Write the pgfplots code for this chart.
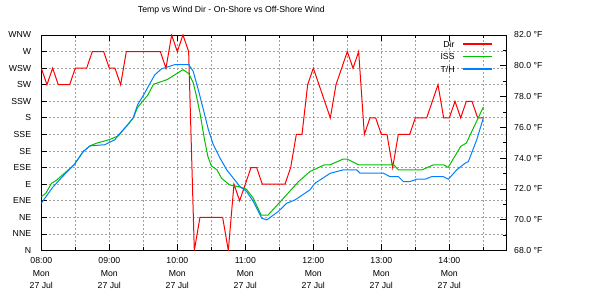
\documentclass[border=0pt]{standalone}
\usepackage{fontspec}
\setmainfont{Liberation Sans}
\usepackage{pgfplots}
\pgfplotsset{compat=1.18}

\definecolor{dirred}{RGB}{255,0,0}
\definecolor{issgreen}{RGB}{0,192,0}
\definecolor{thblue}{RGB}{0,128,255}
\definecolor{gridgray}{RGB}{160,160,160}

% legend key: a short coloured rule after the entry text
\newcommand{\legkey}[1]{\hspace{8bp}\textcolor{#1}{\rule[2.7bp]{29bp}{1.1bp}}}

% minutes after 08:00 / direction index (0 = N ... 13 = WNW)
\pgfplotstableread{
m lvl
0 11
5 10
10 11
15 10
20 10
25 10
30 11
35 11
40 11
45 12
50 12
55 12
60 11
65 11
70 10
75 12
80 12
85 12
90 12
95 12
100 12
105 12
110 11
115 13
120 12
125 13
130 12
135 0
140 2
145 2
150 2
155 2
160 2
165 0
170 4
175 3
180 4
185 5
190 5
195 4
200 4
205 4
210 4
215 4
220 5
225 7
230 7
235 10
240 11
245 10
250 9
255 8
260 10
265 11
270 12
275 11
280 12
285 7
290 8
295 8
300 7
305 7
310 5
315 7
320 7
325 7
330 8
335 8
340 8
345 9
350 10
355 8
360 8
365 9
370 8
375 9
380 9
385 8
390 8
}\dirdata

% minutes after 08:00 / temperature in F
\pgfplotstableread{
m t
0 71.5
4 71.72
9 72.37
13 72.54
29 73.57
37 74.43
43 74.8
49 74.98
60 75.2
68 75.45
75 76.06
81 76.6
85 77.3
94 78.1
99 78.8
103 78.9
111 79.1
125 79.75
130 79.5
134 78.9
137 78.0
140 76.93
144 75.2
147 74.1
150 73.5
155 73.24
159 72.7
166 72.26
174 72.15
181 71.98
187 71.4
194 70.3
200 70.3
211 71.18
227 72.48
237 73.13
250 73.57
255 73.57
266 73.93
270 73.93
280 73.57
311 73.57
315 73.24
336 73.24
346 73.57
355 73.57
359 73.4
370 74.76
375 74.98
390 77.32
}\issdata

\pgfplotstableread{
m t
0 71.07
10 72.1
20 72.9
29 73.57
37 74.43
43 74.8
56 74.87
65 75.2
68 75.5
75 76.06
81 76.6
85 77.47
91 78.2
100 79.4
106 79.8
118 80.08
130 80.08
134 79.64
138.5 78.45
143 77.15
147.4 75.85
151.8 74.87
157.7 74.0
163.6 73.24
169.4 72.7
175.3 72.15
181.2 71.83
187.1 71.18
194.5 70.1
199 69.99
209 70.53
216.5 71.07
224 71.29
237 71.94
241.5 72.37
255 73.02
266.5 73.24
278.3 73.24
281.2 73.02
301.8 73.02
307.7 72.8
315 72.8
319.4 72.48
325.3 72.48
331.2 72.63
338.6 72.63
344.5 72.8
354.7 72.8
359.1 72.63
366.5 73.24
373.9 73.67
376.8 73.78
384.2 75.2
390 76.6
}\thdata

\begin{document}
\begin{tikzpicture}[font=\fontsize{8.7bp}{12.5bp}\selectfont]
\useasboundingbox (-41.3bp,-49.5bp) rectangle (568.7bp,250.5bp);

% wind direction, left axis
\begin{axis}[
  at={(0,0)}, anchor=south west,
  scale only axis, width=464.7bp, height=215.5bp,
  xmin=0, xmax=410, ymin=0, ymax=13,
  axis line style={line width=0.8bp},
  xtick={0,60,...,360}, minor xtick={30,90,...,390},
  xticklabels={{08:00\\Mon\\27 Jul},{09:00\\Mon\\27 Jul},{10:00\\Mon\\27 Jul},
    {11:00\\Mon\\27 Jul},{12:00\\Mon\\27 Jul},{13:00\\Mon\\27 Jul},{14:00\\Mon\\27 Jul}},
  xticklabel style={align=center, inner sep=0pt},
  xticklabel shift=7bp,
  xtick pos=both, ytick pos=left,
  ytick={0,...,13},
  yticklabels={N,NNE,NE,ENE,E,ESE,SE,SSE,S,SSW,SW,WSW,W,WNW},
  yticklabel style={inner sep=0pt},
  yticklabel shift=10bp,
  major tick length=6bp, minor tick length=3bp,
  tick style={black, line width=0.8bp},
  xmajorgrids, xminorgrids, ymajorgrids,
  grid style={gridgray, line width=0.8bp, dash pattern=on 2bp off 2bp},
  minor grid style={gridgray, line width=0.8bp, dash pattern=on 2bp off 2bp},
  title={Temp vs Wind Dir - On-Shore vs Off-Shore Wind},
  title style={at={(0.409,1.085)}, anchor=center, inner sep=0pt, yshift=0pt},
]
\addplot[dirred, line width=1bp] table[x=m, y=lvl] {\dirdata};
\end{axis}

% temperatures, right axis
\begin{axis}[
  at={(0,0)}, anchor=south west,
  scale only axis, width=464.7bp, height=215.5bp,
  xmin=0, xmax=410, ymin=68, ymax=82,
  hide x axis,
  axis y line*=right,
  axis line style={line width=0.8bp, -},
  ytick={68,70,...,82}, minor ytick={69,71,...,81},
  /pgf/number format/assume math mode=true,
  yticklabel={\pgfmathprintnumber[fixed,fixed zerofill,precision=1]{\tick} °F},
  yticklabel style={inner sep=0pt, anchor=west},
  yticklabel shift=8bp,
  major tick length=6bp, minor tick length=3bp,
  tick style={black, line width=0.8bp},
  legend plot pos=none,
  legend cell align=right,
  legend style={at={(0.969,0.9735)}, anchor=north east, draw=none, fill=none,
    inner sep=0pt, outer sep=0pt, row sep=6bp,
    nodes={inner sep=0pt, fill=none, text height=6.5bp, text depth=0pt}},
]
\addlegendimage{empty legend}
\addlegendentry{Dir\legkey{dirred}}
\addplot[issgreen, line width=1bp] table[x=m, y=t] {\issdata};
\addlegendentry{ISS\legkey{issgreen}}
\addplot[thblue, line width=1bp] table[x=m, y=t] {\thdata};
\addlegendentry{T/H\legkey{thblue}}
\end{axis}
\end{tikzpicture}
\end{document}
